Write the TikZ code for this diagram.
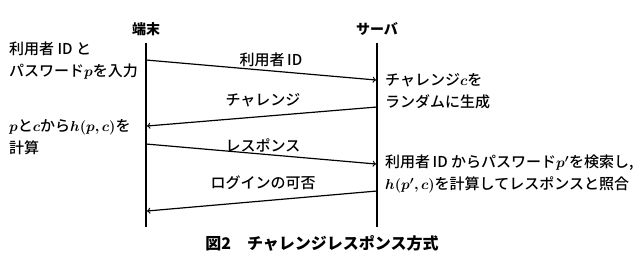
\documentclass[tikz,border=0pt]{standalone}
\usepackage{amsmath,amssymb}
\usepackage{bm}
\usepackage{fontspec}
\setmainfont{Noto Sans CJK JP}
\newfontfamily\medfont{Noto Sans CJK JP Medium}
\usetikzlibrary{arrows,positioning,calc}

\tikzset{
    lifeline/.style={line width=1.7pt},
    msg/.style={line width=1.2pt, ->},
    note/.style={anchor=west, align=left, inner sep=0pt, font=\medfont\fontsize{15}{22}\selectfont},
    msglabel/.style={inner sep=1pt, font=\medfont\fontsize{15}{16}\selectfont},
    actor/.style={inner sep=1pt, font=\fontsize{14}{16}\selectfont\bfseries}
}
\newcommand{\mv}[1]{$\bm{#1}$}

\begin{document}
\begin{tikzpicture}[x=1pt, y=-1pt]
    \useasboundingbox (0,0) rectangle (639,266);

    % Actors and lifelines
    \node[actor] (term) at (146,29) {端末};
    \node[actor] (server) at (377,29) {サーバ};
    \coordinate (termTop) at (146,43);
    \coordinate (termBot) at (146,227);
    \coordinate (servTop) at (377,43);
    \coordinate (servBot) at (377,227);
    \draw[lifeline] (termTop) -- (termBot);
    \draw[lifeline] (servTop) -- (servBot);

    % Messages
    \coordinate (idFrom) at (146,60);
    \coordinate (idTo) at (376,80);
    \coordinate (chFrom) at (377,107);
    \coordinate (chTo) at (147,126);
    \coordinate (resFrom) at (146,144);
    \coordinate (resTo) at (376,164);
    \coordinate (okFrom) at (377,191);
    \coordinate (okTo) at (147,211);
    \draw[msg] (idFrom) -- (idTo);
    \draw[msg] (chFrom) -- (chTo);
    \draw[msg] (resFrom) -- (resTo);
    \draw[msg] (okFrom) -- (okTo);

    \node[msglabel] (idLabel) at (271,60) {利用者\,ID};
    \node[msglabel] (chLabel) at (263,100) {チャレンジ};
    \node[msglabel] (resLabel) at (263,145) {レスポンス};
    \node[msglabel] (okLabel) at (263,183) {ログインの可否};

    % Terminal side notes
    \node[note] (inputNote) at (9,61) {利用者 ID と\\パスワード\mv{p}を入力};
    \node[note] (calcNote) at (9,137) {\mv{p}と\mv{c}から\mv{h(p,c)}を\\計算};

    % Server side notes
    \node[note] (genNote) at (385,91) {チャレンジ\mv{c}を\\ランダムに生成};
    \node[note] (checkNote) at (385,174) {利用者\,ID からパスワード\mv{p'}を検索し,\\\mv{h(p',c)}を計算してレスポンスと照合};

    % Caption
    \node[font=\fontsize{16}{18}\selectfont\bfseries] (caption) at (322,243) {図2\quad チャレンジレスポンス方式};
\end{tikzpicture}
\end{document}
